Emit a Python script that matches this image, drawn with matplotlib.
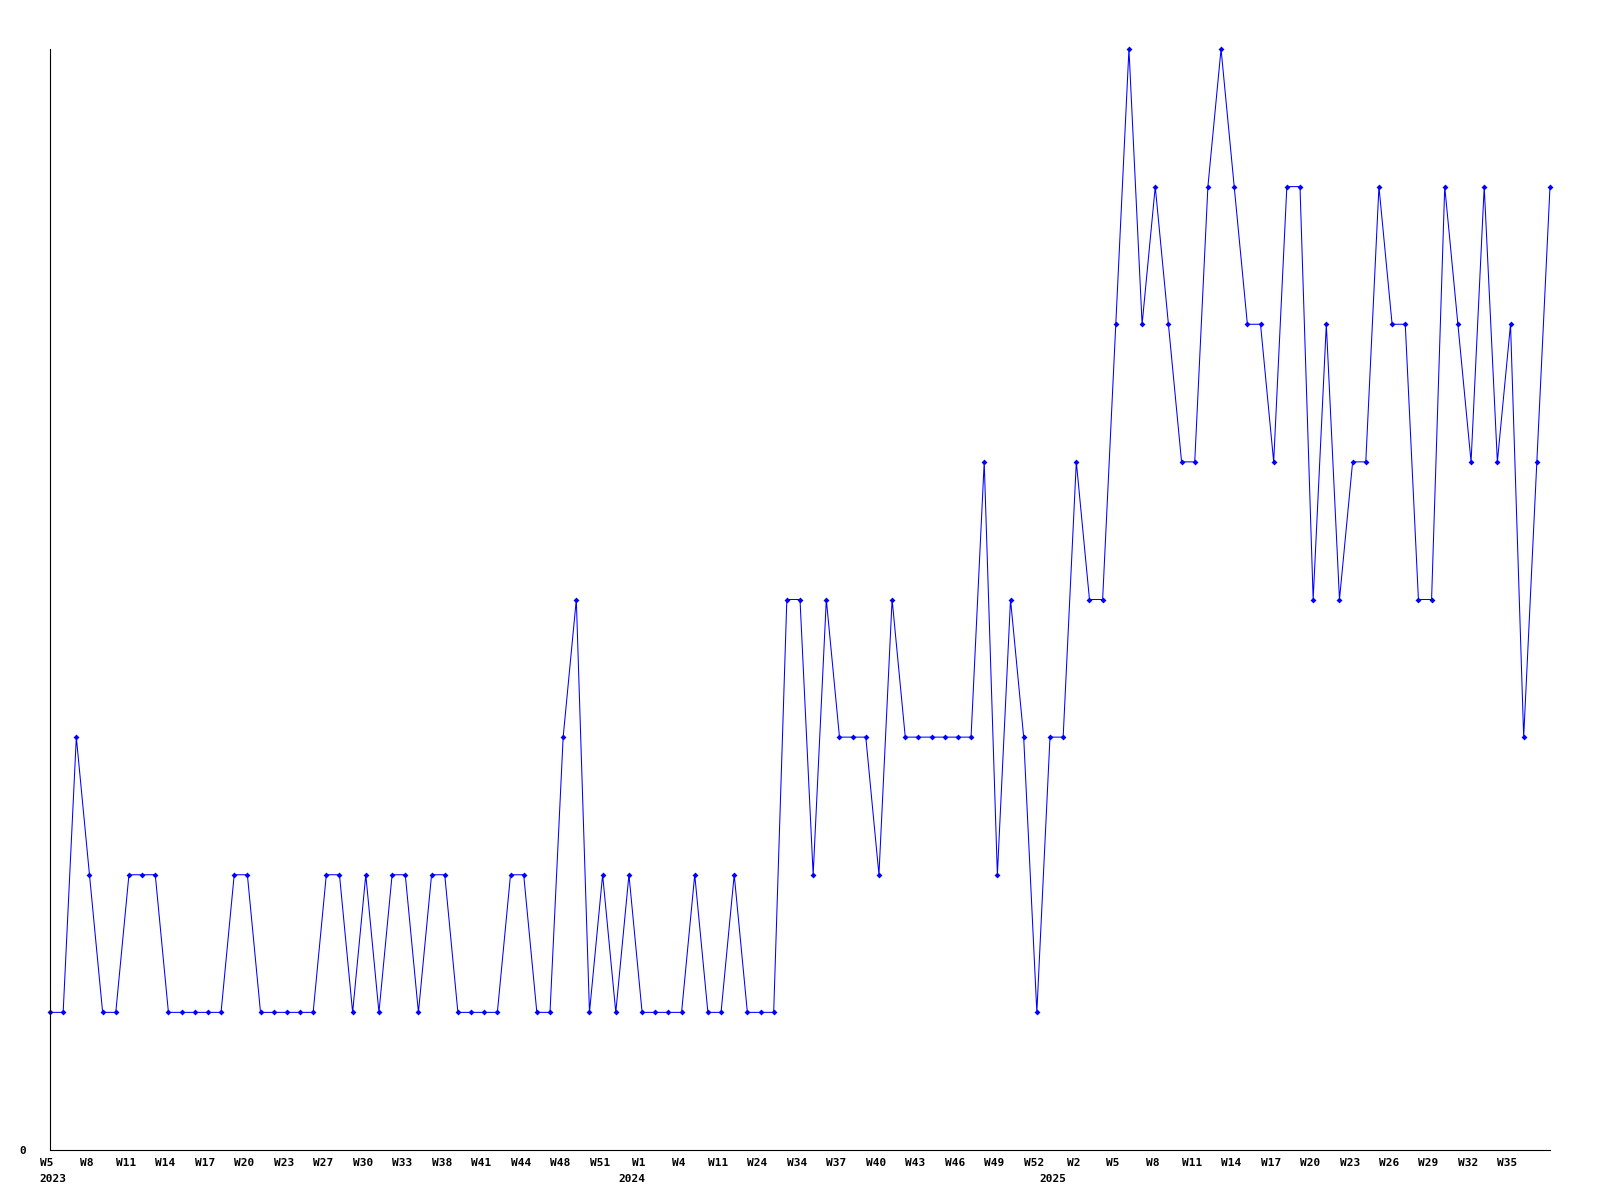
import matplotlib
matplotlib.use('Agg')
import matplotlib.pyplot as plt
import matplotlib.transforms as mtransforms
import numpy as np

# weekly counts
counts = [1, 1, 3, 2, 1, 1, 2, 2, 2, 1,
          1, 1, 1, 1, 2, 2, 1, 1, 1, 1,
          1, 2, 2, 1, 2, 1, 2, 2, 1, 2,
          2, 1, 1, 1, 1, 2, 2, 1, 1, 3,
          4, 1, 2, 1, 2, 1, 1, 1, 1, 2,
          1, 1, 2, 1, 1, 1, 4, 4, 2, 4,
          3, 3, 3, 2, 4, 3, 3, 3, 3, 3,
          3, 5, 2, 4, 3, 1, 3, 3, 5, 4,
          4, 6, 8, 6, 7, 6, 5, 5, 7, 8,
          7, 6, 6, 5, 7, 7, 4, 6, 4, 5,
          5, 7, 6, 6, 4, 4, 7, 6, 5, 7,
          5, 6, 3, 5, 7]

tick_labels = ['W5', 'W8', 'W11', 'W14', 'W17', 'W20', 'W23', 'W27', 'W30', 'W33',
               'W38', 'W41', 'W44', 'W48', 'W51', 'W1', 'W4', 'W11', 'W24', 'W34',
               'W37', 'W40', 'W43', 'W46', 'W49', 'W52', 'W2', 'W5', 'W8', 'W11',
               'W14', 'W17', 'W20', 'W23', 'W26', 'W29', 'W32', 'W35']
tick_step = 3

years = ['2023', '2024', '2025']
year_pos = [0.2, 44.2, 76.2]

font = {'family': 'DejaVu Sans Mono', 'weight': 'bold', 'size': 8}

x = np.arange(len(counts))

fig = plt.figure(figsize=(16, 12), dpi=100)
ax = fig.add_axes([50 / 1600, 50 / 1200, 1500 / 1600, 1101 / 1200])

ax.plot(x, counts, color='#0000ff', linewidth=0.75, marker='D', markersize=3,
        markeredgewidth=0, clip_on=False)

ax.set_xlim(0, len(counts) - 1)
ax.set_ylim(0, max(counts))

for s in ['top', 'right']:
    ax.spines[s].set_visible(False)
for s in ['left', 'bottom']:
    ax.spines[s].set_linewidth(0.8)
    ax.spines[s].set_color('black')

ax.set_xticks(x[:len(tick_labels) * tick_step:tick_step])
ax.set_xticklabels(tick_labels, fontdict=font)
ax.set_yticks([0])
ax.set_yticklabels(['0'], fontdict=font)
ax.tick_params(axis='x', length=0, pad=6)
ax.tick_params(axis='y', length=0, pad=17)

# labels sit a little left of their points in the original
shift = mtransforms.ScaledTranslation(-3 / 100, 0, fig.dpi_scale_trans)
for lbl in ax.get_xticklabels():
    lbl.set_transform(lbl.get_transform() + shift)

for yr, p in zip(years, year_pos):
    ax.annotate(yr, xy=(p, 0), xycoords=('data', 'axes fraction'),
                xytext=(0, -17), textcoords='offset points',
                ha='center', va='top', **font)

fig.savefig('out.png', dpi=100)
